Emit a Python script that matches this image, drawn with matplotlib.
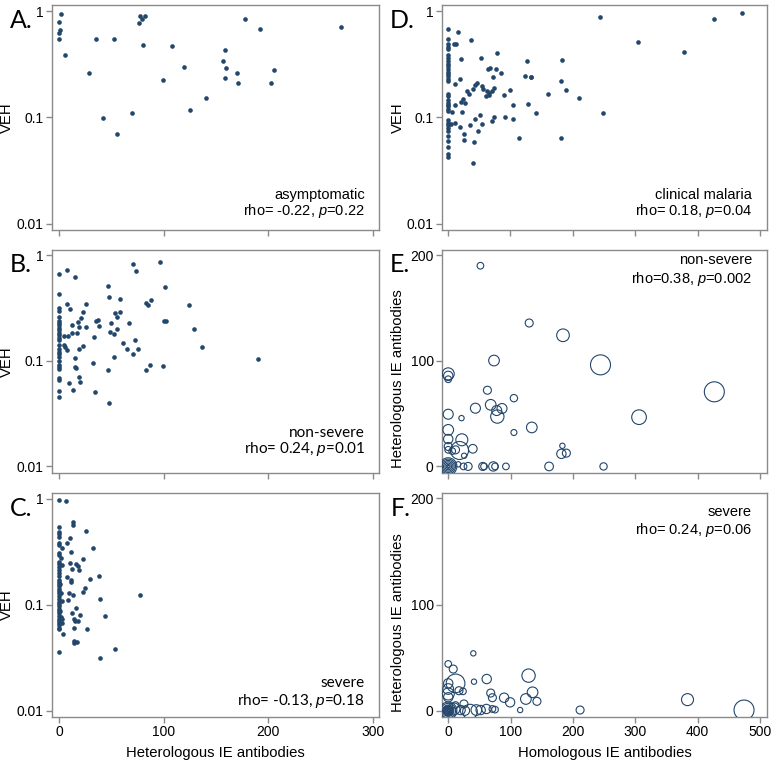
import numpy as np
import matplotlib.pyplot as plt
from matplotlib.ticker import FixedLocator, FixedFormatter, NullLocator

plt.rcParams['font.family'] = 'Liberation Sans'
plt.rcParams['mathtext.fontset'] = 'custom'
plt.rcParams['mathtext.it'] = 'Liberation Sans:italic'
plt.rcParams['mathtext.rm'] = 'Liberation Sans'

# ---- A: asymptomatic, heterologous IE antibodies vs VEH
a_x = [2, 0, 1, 0, 0, 5, 28, 35, 42, 52, 55, 70, 76, 77, 79, 82, 80, 99, 108,
       119, 125, 140, 157, 159, 160, 159, 170, 171, 178, 192, 203, 206, 270]
a_y = [0.94, 0.78, 0.67, 0.62, 0.55, 0.39, 0.26, 0.54, 0.099, 0.545, 0.070,
       0.111, 0.765, 0.90, 0.84, 0.90, 0.48, 0.224, 0.47, 0.295, 0.117, 0.153,
       0.34, 0.43, 0.29, 0.236, 0.263, 0.209, 0.84, 0.68, 0.209, 0.279, 0.70]

# ---- B: non-severe
b_x = [0, 0, 0, 0, 0, 0, 0, 0, 0, 0, 0, 0, 0, 0, 0, 0, 0, 0, 0, 0, 0, 0, 0, 0, 0, 0, 0,
       7.1, 14.7, 7.4, 10.3, 12.2, 4.8, 8.3, 4.5, 5.8, 7.1, 12.2, 17.0, 15.4, 14.7,
       16.0, 19.2, 20.2, 9.3, 13.5, 18.6, 17.9, 20.5, 23.1, 25.6, 25.3, 19.2, 22.8,
       33.3, 32.1, 34.6, 35.3, 37.2, 37.8, 46.8, 47.4, 47.8, 46.2, 49.4, 49.0, 52.6,
       51.9, 53.2, 55.4, 55.1, 58.3, 57.7, 61.2, 65.1, 67.0, 70.2, 72.1, 75.3, 70.8,
       73.4, 83.0, 85.3, 87.5, 83.3, 87.2, 96.8, 101.0, 100.3, 102.2, 99.4, 124.4,
       129.2, 136.5, 190.7]
b_y = [0.659, 0.431, 0.318, 0.296, 0.260, 0.239, 0.229, 0.217, 0.207, 0.195, 0.184,
       0.175, 0.166, 0.157, 0.141, 0.129, 0.122, 0.115, 0.110, 0.100, 0.0917, 0.0873,
       0.0835, 0.0688, 0.0654, 0.0516, 0.0453,
       0.734, 0.626, 0.347, 0.31, 0.219, 0.171, 0.174, 0.141, 0.136, 0.127, 0.182,
       0.184, 0.107, 0.0873, 0.0848, 0.0708, 0.0636, 0.0613, 0.0527, 0.21, 0.235,
       0.255, 0.292, 0.347, 0.21, 0.13, 0.139, 0.169, 0.0964, 0.0508, 0.239, 0.242,
       0.216, 0.508, 0.401, 0.0401, 0.0811, 0.23, 0.187, 0.178, 0.11, 0.282, 0.26,
       0.2, 0.29, 0.387, 0.147, 0.129, 0.227, 0.116, 0.157, 0.129, 0.824, 0.713,
       0.352, 0.337, 0.381, 0.0818, 0.0917, 0.86, 0.501, 0.237, 0.237, 0.0891, 0.34,
       0.2, 0.134, 0.104]

# ---- C: severe
c_x = [0, 0, 0, 0, 0, 0, 0, 0, 0, 0, 0, 0, 0, 0, 0, 0, 0, 0, 0, 0, 0, 0, 0, 0, 0,
       0, 0, 0, 0, 0, 0, 0, 0, 0, 0, 0, 0, 0,
       6.1, 2.2, 1.6, 2.9, 1.0, 1.6, 2.9, 1.6, 2.9, 3.5, 1.0, 2.2,
       13.1, 13.5, 10.3, 7.1, 11.2, 25.3, 32.7, 22.8, 10.6, 12.2, 16.3, 17.6, 18.6,
       7.4, 10.9, 11.5, 29.2, 38.1, 9.3, 13.5, 8.7, 24.4, 22.8, 39.1, 16.0, 12.2,
       19.6, 13.8, 15.4, 17.6, 43.6, 14.4, 26.6, 13.8, 14.4, 17.0, 53.8, 39.4, 77.2]
c_y = [0.978, 0.536, 0.487, 0.46, 0.437, 0.38, 0.367, 0.304, 0.293, 0.255, 0.244,
       0.229, 0.214, 0.201, 0.187, 0.171, 0.164, 0.156, 0.150, 0.142, 0.135, 0.130,
       0.121, 0.112, 0.107, 0.102, 0.097, 0.0917, 0.0871, 0.0828, 0.0781, 0.0737,
       0.070, 0.0666, 0.0637, 0.0605, 0.0585, 0.0359,
       0.957, 0.339, 0.277, 0.239, 0.158, 0.130, 0.108, 0.0770, 0.0737, 0.0528,
       0.0871, 0.0676,
       0.597, 0.567, 0.421, 0.378, 0.315, 0.491, 0.341, 0.269, 0.246, 0.216, 0.243,
       0.232, 0.211, 0.183, 0.170, 0.164, 0.176, 0.185, 0.130, 0.122, 0.11, 0.144,
       0.132, 0.114, 0.0923, 0.0828, 0.0804, 0.0726, 0.0706, 0.0695, 0.0776, 0.0601,
       0.0585, 0.045, 0.043, 0.0443, 0.0378, 0.0317, 0.122]

# ---- D: clinical malaria, homologous IE antibodies vs VEH
d_x = [0, 0, 0, 0, 0, 0, 0, 0, 0, 0, 0, 0, 0, 0, 0, 0, 0, 0, 0, 0, 0, 0, 0, 0, 0,
       0, 0, 0, 0, 0, 0, 0, 0, 0,
       17.0, 9.6, 12.8, 37.2, 21.8, 53.2, 78.7, 127.7, 183.5, 244.1, 64.9, 68.1,
       77.7, 86.2, 72.9, 124.5, 133.5, 134.0, 181.4, 189.9, 20.2, 12.2, 43.6, 46.3,
       40.4, 55.3, 56.4, 73.9, 62.8, 67.0, 70.7, 66.0, 61.7, 31.4, 34.0, 24.5, 21.8,
       27.7, 90.4, 100.0, 161.2, 210.6, 11.7, 7.4, 2.1, 5.3, 11.7, 22.9, 51.1, 43.6,
       35.1, 54.8, 74.5, 71.3, 91.5, 104.3, 104.3, 129.3, 142.0, 248.4, 20.2, 48.9,
       25.5, 26.1, 41.5, 114.9, 181.4, 40.4, 304.3, 378.7, 426.6, 470.7]
d_y = [0.671, 0.544, 0.485, 0.457, 0.435, 0.385, 0.363, 0.34, 0.321, 0.303, 0.288,
       0.268, 0.256, 0.244, 0.232, 0.219, 0.166, 0.158, 0.145, 0.138, 0.132, 0.127,
       0.121, 0.114, 0.0937, 0.0885, 0.0841, 0.0794, 0.0738, 0.0662, 0.0594, 0.0525,
       0.0451, 0.0422,
       0.638, 0.485, 0.485, 0.537, 0.352, 0.363, 0.407, 0.337, 0.343, 0.871, 0.288,
       0.292, 0.288, 0.262, 0.238, 0.245, 0.242, 0.238, 0.22, 0.182, 0.228, 0.205,
       0.203, 0.209, 0.184, 0.198, 0.186, 0.19, 0.176, 0.171, 0.176, 0.161, 0.159,
       0.179, 0.166, 0.149, 0.14, 0.138, 0.161, 0.18, 0.166, 0.152, 0.13, 0.112,
       0.0871, 0.0871, 0.0891, 0.112, 0.1045, 0.0957, 0.0853, 0.0865, 0.1015, 0.0917,
       0.1007, 0.13, 0.0971, 0.135, 0.11, 0.111, 0.081, 0.0743, 0.0691, 0.0611,
       0.0585, 0.0638, 0.0638, 0.0376, 0.514, 0.413, 0.84, 0.964]

# ---- E: non-severe, homologous vs heterologous (bubble = weight)
e_x = [51.6, 129.8, 184, 73.4, 244.1, 0, 0, 0, 62.8, 105.3, 43.6, 68.1, 77.7, 86.2,
       78.7, 0, 21.3, 105.3, 134, 0, 0, 21.8, 18.1, 39.4, 0, 0, 6.4, 11.7, 25.5, 183,
       181.4, 189.4, 24.5, 31.9, 55.3, 57.4, 72.3, 75, 92.5, 161.7, 249, 426.6, 305.9,
       16, 0, 0, 0, 0, 0, 0, 0]
e_y = [189.9, 135.7, 124.1, 100.2, 96.1, 87.6, 85.7, 82.5, 72.1, 64.6, 55.1, 58.3,
       52.9, 54.8, 47.2, 49.4, 45.7, 32.1, 36.9, 34.6, 25.9, 25.2, 15.1, 16.7, 18.9,
       15.7, 14.5, 15.7, 10.1, 19.5, 11.9, 12.6, 0, 0, 0, 0, 0, 0, 0, 0, 0, 70.6, 46.6,
       2, 0, 0, 0, 0, 0, 0, 0]
e_w = [10, 12, 19, 16, 30, 18, 14, 10, 12, 11, 15, 16, 15, 15, 20, 15, 8, 9, 16, 16,
       14, 18, 27, 13, 12, 10, 10, 12, 8, 8, 14, 12, 10, 12, 12, 10, 14, 10, 10, 13,
       11, 30, 22, 8, 3, 6, 10, 14, 18, 22, 26]

# ---- F: severe
f_x = [40.2, 0, 8, 11.8, 41.3, 61.7, 128.8, 0, 0, 17.2, 23.6, 0, 0, 68.1, 70.8, 89.6,
       99.2, 124.5, 135.2, 142.2, 115.3, 211.4, 383.6, 474.2, 9.1, 19.8, 26.8, 34.9,
       45.1, 52, 61.2, 70.8, 75, 11.8, 25.2,
       0, 0, 0, 0, 0, 0, 0, 0, 0, 0]
f_y = [54, 44, 39.2, 25.7, 27.3, 29.8, 33, 25.7, 20.4, 18.8, 18.2, 15.7, 12.6, 16.6,
       12.2, 12.2, 7.85, 11, 17.3, 8.8, 0.6, 0.6, 10.4, 0.6, 1.6, 0.6, 0, -0.9, 0.6,
       0.6, 1.6, 1.6, 1, 5.3, 6.3,
       0, 0, 0, 0, 0, 0, 0, 0, 0, 0]
f_w = [8, 10, 12, 28, 8, 14, 20, 14, 16, 12, 10, 18, 14, 12, 12, 14, 14, 16, 16, 12,
       8, 12, 18, 30, 18, 14, 14, 22, 16, 14, 14, 10, 10, 10, 12,
       3, 5, 7, 9, 11, 13, 15, 17, 22, 26]

navy = '#23466b'
frame = '#8a8a8a'

fig = plt.figure(figsize=(7.82, 7.65), dpi=100)
left_col, right_col = 0.0665, 0.5652
w_left, w_right = 0.418, 0.4156
rows = [(0.699, 0.294), (0.382, 0.2915), (0.0627, 0.2928)]


def style(ax):
    for s in ax.spines.values():
        s.set_color(frame)
        s.set_linewidth(1.0)
    ax.tick_params(direction='out', length=4, width=1, color=frame,
                   labelsize=10, pad=2)
    ax.yaxis.set_minor_locator(NullLocator())
    ax.xaxis.set_minor_locator(NullLocator())


def veh_axes(ax, xticks, show_x):
    ax.set_yscale('log')
    ax.set_ylim(0.0087, 1.13)
    ax.yaxis.set_major_locator(FixedLocator([0.01, 0.1, 1]))
    ax.yaxis.set_major_formatter(FixedFormatter(['0.01', '0.1', '1']))
    ax.set_xticks(xticks)
    if not show_x:
        ax.set_xticklabels([])
    ax.set_ylabel('VEH', fontsize=10.7)
    ax.yaxis.set_label_coords(-0.115, 0.5)
    style(ax)


def note(ax, lines, x, ys, family='Liberation Sans', size=10.5):
    for txt, y in zip(lines, ys):
        ax.text(x, y, txt, transform=ax.transAxes, ha='right', va='baseline',
                fontsize=size, family=family)


axA = fig.add_axes([left_col, rows[0][0], w_left, rows[0][1]])
axB = fig.add_axes([left_col, rows[1][0], w_left, rows[1][1]])
axC = fig.add_axes([left_col, rows[2][0], w_left, rows[2][1]])
axD = fig.add_axes([right_col, rows[0][0], w_right, rows[0][1]])
axE = fig.add_axes([right_col, rows[1][0], w_right, rows[1][1]])
axF = fig.add_axes([right_col, rows[2][0], w_right, rows[2][1]])

het_ticks = [0, 100, 200, 300]
hom_ticks = [0, 100, 200, 300, 400, 500]

for ax, xs, ys in [(axA, a_x, a_y), (axB, b_x, b_y), (axC, c_x, c_y)]:
    ax.scatter(xs, ys, s=11, color=navy, linewidths=0, zorder=3)
    ax.set_xlim(-7, 306)
    veh_axes(ax, het_ticks, ax is axC)

axD.scatter(d_x, d_y, s=11, color=navy, linewidths=0, zorder=3)
axD.set_xlim(-9, 511)
veh_axes(axD, hom_ticks, False)

for ax, xs, ys, ws in [(axE, e_x, e_y, e_w), (axF, f_x, f_y, f_w)]:
    sizes = (0.48 * np.array(ws)) ** 2
    ax.scatter(xs, ys, s=sizes, facecolors='none', edgecolors=navy,
               linewidths=0.8, zorder=3)
    ax.set_xlim(-10, 511)
    ax.set_ylim(-6, 205)
    ax.set_yticks([0, 100, 200])
    ax.set_xticks(hom_ticks)
    ax.set_ylabel('Heterologous IE antibodies', fontsize=10.7)
    ax.yaxis.set_label_coords(-0.113, 0.42)
    style(ax)
axE.set_xticklabels([])

axC.set_xlabel('Heterologous IE antibodies', fontsize=10.7, labelpad=5)
axF.set_xlabel('Homologous IE antibodies', fontsize=10.7, labelpad=5)

note(axA, ['asymptomatic', r'rho= -0.22, $\mathit{p}$=0.22'], 0.957, [0.138, 0.067])
note(axD, ['clinical malaria', r'rho= 0.18, $\mathit{p}$=0.04'], 0.954, [0.138, 0.067])
note(axB, ['non-severe', r'rho= 0.24, $\mathit{p}$=0.01'], 0.957, [0.161, 0.09],
     family='Lato', size=11)
note(axC, ['severe', r'rho= -0.13, $\mathit{p}$=0.18'], 0.957, [0.134, 0.054],
     family='Lato', size=11)
note(axE, ['non-severe', r'rho=0.38, $\mathit{p}$=0.002'], 0.954, [0.937, 0.852])
note(axF, ['severe', r'rho= 0.24, $\mathit{p}$=0.06'], 0.954, [0.897, 0.817])

for letter, x, y in [('A.', 10, 28), ('B.', 10, 272), ('C.', 10, 516),
                     ('D.', 390, 28), ('E.', 390, 272), ('F.', 391, 516)]:
    fig.text(x / 782, 1 - y / 765, letter, fontsize=18, family='Lato',
             ha='left', va='baseline')

fig.savefig('out.png', dpi=100)
